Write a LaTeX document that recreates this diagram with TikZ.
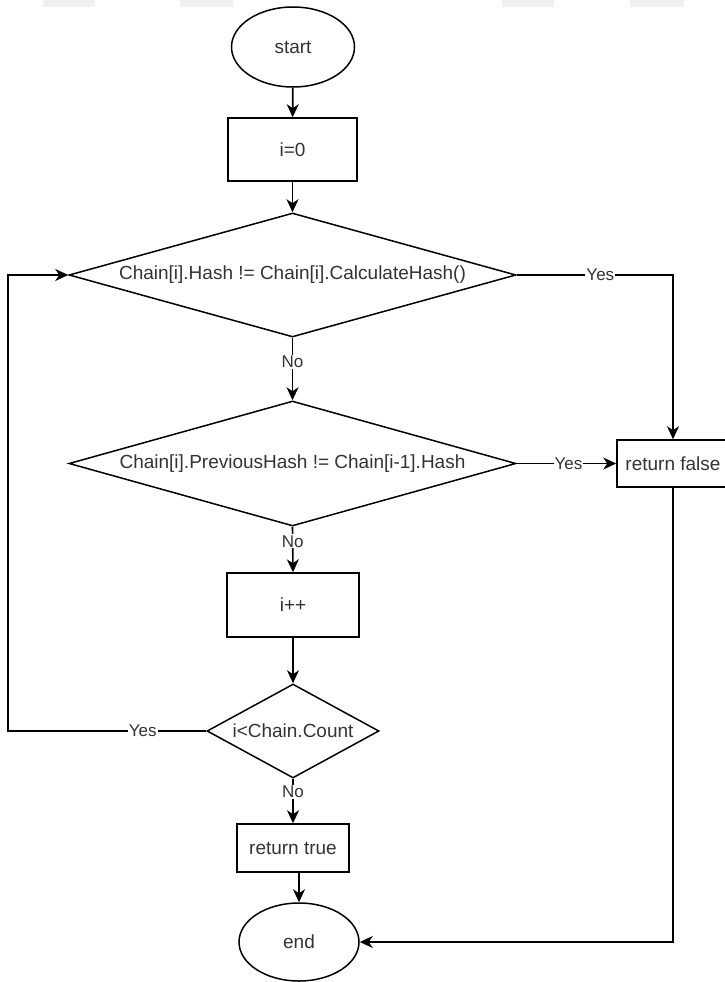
\documentclass[tikz,border=0pt]{standalone}
\usepackage{fontspec}
\setmainfont{Liberation Sans}
\usetikzlibrary{shapes.geometric,arrows.meta,calc}
\definecolor{ink}{HTML}{333333}
\definecolor{band}{HTML}{F0F0F0}
\begin{document}
\begin{tikzpicture}[x=1pt,y=-1pt,
  every node/.style={text=ink},
  shapeline/.style={draw=black,line width=1.5pt,fill=white,inner sep=0pt},
  oval/.style={shapeline,ellipse,font=\fontsize{19}{22}\selectfont},
  procbox/.style={shapeline,rectangle,font=\fontsize{19}{22}\selectfont},
  decision/.style={shapeline,diamond},
  dtext/.style={font=\fontsize{19}{22}\selectfont,inner sep=0pt},
  conn/.style={draw=black,line width=1.6pt,-{Stealth[length=13pt,width=12pt,inset=4pt]}},
  elabel/.style={fill=white,inner sep=1pt,font=\fontsize{17}{20}\selectfont}]
\useasboundingbox (0,0) rectangle (724,982);
\fill[white] (0,0) rectangle (724,982);

% faint header strips along the top edge
\foreach \a/\b in {43/95,180/233,502/554,630/684}
  \fill[band] (\a,0) rectangle (\b,7);

% nodes
\node[oval,minimum width=123,minimum height=80] (st) at (293,47) {start};
\node[procbox,minimum width=129,minimum height=63] (i0) at (292.5,149.5) {i=0};
\node[decision,minimum width=447,minimum height=124] (d1) at (292.5,275) {};
\node[dtext] at (d1) {Chain[i].Hash != Chain[i].CalculateHash()};
\node[decision,minimum width=447,minimum height=125] (d2) at (292.5,463.5) {};
\node[dtext] at (d2) {Chain[i].PreviousHash != Chain[i-1].Hash};
\node[procbox,minimum width=132,minimum height=64] (inc) at (293,605) {i++};
\node[decision,minimum width=172,minimum height=94] (d3) at (293,731) {};
\node[dtext] at (d3) {i<Chain.Count};
\node[procbox,minimum width=112,minimum height=48] (rt) at (293,848) {return true};
\node[oval,minimum width=120,minimum height=78] (en) at (299,942) {end};
\node[procbox,minimum width=112,minimum height=47] (rf) at (673,463.5) {return false};

% connectors
\draw[conn] (st) -- (i0);
\draw[conn] (i0) -- (d1);
\draw[conn] (d1.east) -- node[elabel,pos=0.535]{Yes} (d1.east -| rf) -- (rf.north);
\draw[conn] (d1.south) -- node[elabel,pos=0.39]{No} (d2.north);
\draw[conn] (d2.east) -- node[elabel,pos=0.52]{Yes} (rf.west);
\draw[conn] (d2.south) -- node[elabel,pos=0.32]{No} (inc.north);
\draw[conn] (inc) -- (d3.north);
\coordinate (loopb) at (8,731);
\coordinate (loopt) at (8,275);
\draw[conn] (d3.west) -- node[elabel,pos=0.32]{Yes} (loopb) -- (loopt) -- (d1.west);
\draw[conn] (d3.south) -- node[elabel,pos=0.3]{No} (rt.north);
\draw[conn] (rt.south -| en.north) -- (en.north);
\draw[conn] (rf.south) |- (en.east);
\end{tikzpicture}
\end{document}
